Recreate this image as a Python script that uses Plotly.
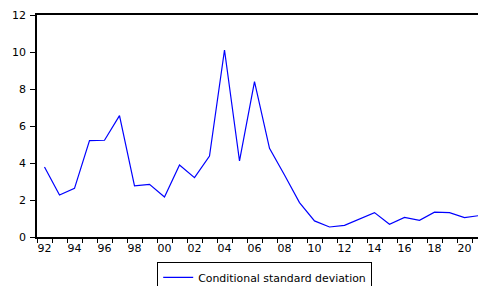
import plotly.graph_objects as go

years = list(range(1992, 2022))
values = [3.78, 2.27, 2.63, 5.21, 5.23, 6.56, 2.76, 2.85, 2.16, 3.89,
          3.21, 4.38, 10.11, 4.11, 8.40, 4.79, 3.35, 1.86, 0.87, 0.54,
          0.63, 0.99, 1.32, 0.69, 1.06, 0.90, 1.34, 1.32, 1.05, 1.16]
label_years = list(range(1992, 2022, 2))
label_text = [f"{y % 100:02d}" for y in label_years]
series_name = "Conditional standard deviation"

fig = go.Figure()
fig.add_trace(go.Scatter(x=years, y=values, mode="lines", name=series_name,
                         line=dict(color="#0000FF", width=1.2), showlegend=True))

font = dict(family="DejaVu Sans, Verdana, sans-serif", size=10.9, color="#000000")

fig.update_layout(
    width=486, height=286,
    margin=dict(l=29, r=7, t=7, b=56.5, autoexpand=False),
    paper_bgcolor="white", plot_bgcolor="white",
    font=font,
    showlegend=True,
    legend=dict(orientation="h", x=0.506, xanchor="center", y=-0.112, yanchor="top",
                bordercolor="#000000", borderwidth=1, bgcolor="white",
                font=font, itemwidth=30, tracegroupgap=0),
    xaxis=dict(range=[1991.5, 2021.5], showgrid=False, zeroline=False, automargin=False,
               showline=True, linecolor="#000000", linewidth=1.5, mirror=True,
               tickmode="array", tickvals=label_years, ticktext=label_text,
               ticks="", ticklen=0, tickfont=dict(size=11),
               minor=dict(tickvals=[y - 0.5 for y in years] + [2021.5],
                          ticks="outside", ticklen=4, tickcolor="#000000", showgrid=False)),
    yaxis=dict(range=[0, 12], showgrid=False, zeroline=False, automargin=False,
               showline=True, linecolor="#000000", linewidth=1.5, mirror=False,
               tickmode="array", tickvals=[0, 2, 4, 6, 8, 10, 12], tickfont=dict(size=11),
               ticks="outside", ticklen=5, tickcolor="#000000", ticklabelstandoff=2),
)

fig.write_html("out.html")
